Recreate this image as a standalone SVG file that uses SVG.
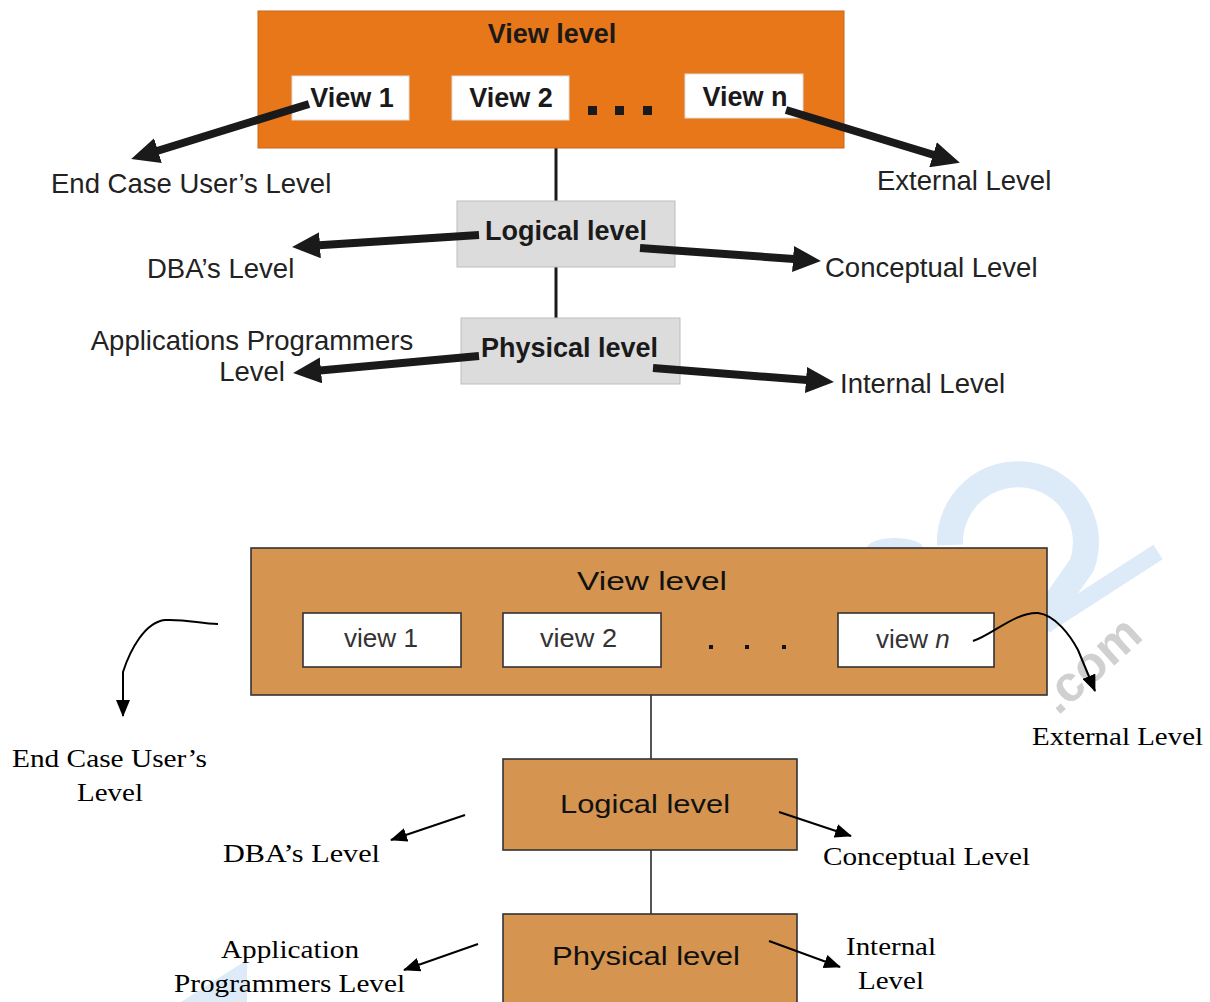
<svg xmlns="http://www.w3.org/2000/svg" width="1210" height="1002" viewBox="0 0 1210 1002">
<style>
.lbl{font-family:"Liberation Sans",Arial,sans-serif;font-size:27.5px;fill:#222}
.bold{font-family:"Liberation Sans",Arial,sans-serif;font-size:27px;font-weight:bold;fill:#1a1a1a}
.tnr{font-family:"Liberation Serif","Times New Roman",serif;font-size:25px;fill:#000}
.sans2{font-family:"Liberation Sans",Arial,sans-serif;font-size:25px;fill:#111}
.vw{font-family:"Liberation Sans",Arial,sans-serif;font-size:26px;fill:#333}
.thick{stroke:#1a1a1a;stroke-width:8;fill:none}
.thin{stroke:#000;stroke-width:2;fill:none}
.org{fill:#E8771A;stroke:#C9651A;stroke-width:1}
.gray{fill:#DCDCDC;stroke:#BDBDBD;stroke-width:1}
.wbox{fill:#fff;stroke:#ddd;stroke-width:1}
.brn{fill:#D59550;stroke:#333;stroke-width:1.6}
.bw{fill:#fff;stroke:#333;stroke-width:1.6}
.wm{fill:#DDEAF8}
</style>
<defs>
<marker id="big" viewBox="0 0 28 26" refX="1" refY="13" markerWidth="28" markerHeight="26" markerUnits="userSpaceOnUse" orient="auto">
<path d="M0,0 L28,13 L0,26 z" fill="#1a1a1a"/>
</marker>
<marker id="small" viewBox="0 0 17 14" refX="16" refY="7" markerWidth="17" markerHeight="14" markerUnits="userSpaceOnUse" orient="auto">
<path d="M0,0 L17,7 L0,14 z" fill="#000"/>
</marker>
</defs>
<rect width="1210" height="1002" fill="#fff"/>

<!-- watermark -->
<g id="watermark">
<path d="M950,545 A68,68 0 1 1 1082,565 L1040,625" fill="none" stroke="#DDEAF8" stroke-width="26"/>
<path d="M1045,625 L1158,552" fill="none" stroke="#DDEAF8" stroke-width="17"/>
<ellipse class="wm" cx="895" cy="548" rx="28" ry="10"/>
<polygon class="wm" points="247,960 247,1002 181,1002"/>
<text x="1058" y="716" transform="rotate(-42 1058 716)" font-family="Liberation Sans,Arial,sans-serif" font-weight="bold" font-size="50" fill="#D0D0D0">.com</text>
</g>

<!-- ===== TOP DIAGRAM ===== -->
<g id="connectors-top">
<line x1="556" y1="148" x2="556" y2="201" stroke="#1a1a1a" stroke-width="3"/>
<line x1="556" y1="267" x2="556" y2="318" stroke="#1a1a1a" stroke-width="3"/>
</g>

<g id="view-level-top">
<rect class="org" x="258" y="11" width="586" height="137"/>
<text class="bold" x="552" y="43" text-anchor="middle">View level</text>
</g>
<g id="view1-top">
<rect class="wbox" x="292" y="76" width="117" height="44"/>
<text class="bold" x="352" y="107" text-anchor="middle">View 1</text>
</g>
<g id="view2-top">
<rect class="wbox" x="452" y="76" width="117" height="44"/>
<text class="bold" x="511" y="107" text-anchor="middle">View 2</text>
</g>
<g id="dots-top" fill="#1a1a1a">
<rect x="588" y="106" width="9" height="9"/>
<rect x="615" y="106" width="9" height="9"/>
<rect x="643" y="106" width="9" height="9"/>
</g>
<g id="viewn-top">
<rect class="wbox" x="685" y="74" width="118" height="44"/>
<text class="bold" x="745" y="106" text-anchor="middle">View n</text>
</g>
<g id="logical-top">
<rect class="gray" x="457" y="201" width="218" height="66"/>
<text class="bold" x="485" y="240">Logical level</text>
</g>
<g id="physical-top">
<rect class="gray" x="461" y="318" width="219" height="66"/>
<text class="bold" x="481" y="357">Physical level</text>
</g>

<g id="arrows-top">
<line class="thick" x1="309" y1="104" x2="157" y2="151" marker-end="url(#big)"/>
<line class="thick" x1="786" y1="110" x2="934" y2="155" marker-end="url(#big)"/>
<line class="thick" x1="479" y1="235" x2="319" y2="245.3" marker-end="url(#big)"/>
<line class="thick" x1="640" y1="248" x2="794" y2="259" marker-end="url(#big)"/>
<line class="thick" x1="479" y1="356" x2="320" y2="370.5" marker-end="url(#big)"/>
<line class="thick" x1="653" y1="368" x2="807" y2="380" marker-end="url(#big)"/>
</g>

<g id="labels-top">
<text class="lbl" x="51" y="193">End Case User’s Level</text>
<text class="lbl" x="877" y="190">External Level</text>
<text class="lbl" x="147" y="278">DBA’s Level</text>
<text class="lbl" x="825" y="277">Conceptual Level</text>
<text class="lbl" x="252" y="350" text-anchor="middle">Applications Programmers</text>
<text class="lbl" x="252" y="381" text-anchor="middle">Level</text>
<text class="lbl" x="840" y="393">Internal Level</text>
</g>

<!-- ===== BOTTOM DIAGRAM ===== -->
<g id="connectors-bottom">
<line x1="651" y1="695" x2="651" y2="759" stroke="#555" stroke-width="2"/>
<line x1="651" y1="850" x2="651" y2="914" stroke="#555" stroke-width="2"/>
</g>

<g id="view-level-bottom">
<rect class="brn" x="251" y="548" width="796" height="147"/>
<text class="sans2" x="577" y="590" textLength="150" lengthAdjust="spacingAndGlyphs">View level</text>
</g>
<g id="view1-bottom">
<rect class="bw" x="303" y="613" width="158" height="54"/>
<text class="vw" x="344" y="647" textLength="74" lengthAdjust="spacingAndGlyphs">view 1</text>
</g>
<g id="view2-bottom">
<rect class="bw" x="503" y="613" width="158" height="54"/>
<text class="vw" x="540" y="647" textLength="77" lengthAdjust="spacingAndGlyphs">view 2</text>
</g>
<g id="dots-bottom" fill="#111">
<rect x="709" y="645" width="4" height="4"/>
<rect x="745" y="645" width="4" height="4"/>
<rect x="782" y="645" width="4" height="4"/>
</g>
<g id="viewn-bottom">
<rect class="bw" x="838" y="613" width="156" height="54"/>
<text class="vw" x="876" y="648">view <tspan font-style="italic">n</tspan></text>
</g>
<g id="logical-bottom">
<rect class="brn" x="503" y="759" width="294" height="91"/>
<text class="sans2" x="560" y="813" textLength="170" lengthAdjust="spacingAndGlyphs">Logical level</text>
</g>
<g id="physical-bottom">
<rect class="brn" x="503" y="914" width="294" height="100"/>
<text class="sans2" x="552" y="965" textLength="188" lengthAdjust="spacingAndGlyphs">Physical level</text>
</g>

<g id="arrows-bottom">
<path class="thin" d="M218,624 C200,624 188,619 165,620 C145,622 130,650 123,672 L123,716" marker-end="url(#small)"/>
<path class="thin" d="M973,641 C992,635 1015,612 1038,613 C1055,615 1070,635 1078,650 L1095,691" marker-end="url(#small)"/>
<line class="thin" x1="465" y1="815" x2="391" y2="840" marker-end="url(#small)"/>
<line class="thin" x1="779" y1="812" x2="851" y2="836" marker-end="url(#small)"/>
<line class="thin" x1="478" y1="944" x2="404" y2="970" marker-end="url(#small)"/>
<line class="thin" x1="769" y1="941" x2="840" y2="967" marker-end="url(#small)"/>
</g>

<g id="labels-bottom">
<text class="tnr" x="12" y="767" textLength="195" lengthAdjust="spacingAndGlyphs">End Case User’s</text>
<text class="tnr" x="77" y="801" textLength="66" lengthAdjust="spacingAndGlyphs">Level</text>
<text class="tnr" x="1032" y="745" textLength="171" lengthAdjust="spacingAndGlyphs">External Level</text>
<text class="tnr" x="223" y="862" textLength="157" lengthAdjust="spacingAndGlyphs">DBA’s Level</text>
<text class="tnr" x="823" y="865" textLength="207" lengthAdjust="spacingAndGlyphs">Conceptual Level</text>
<text class="tnr" x="221" y="958" textLength="138" lengthAdjust="spacingAndGlyphs">Application</text>
<text class="tnr" x="174" y="992" textLength="231" lengthAdjust="spacingAndGlyphs">Programmers Level</text>
<text class="tnr" x="846" y="955" textLength="90" lengthAdjust="spacingAndGlyphs">Internal</text>
<text class="tnr" x="858" y="989" textLength="66" lengthAdjust="spacingAndGlyphs">Level</text>
</g>
</svg>
